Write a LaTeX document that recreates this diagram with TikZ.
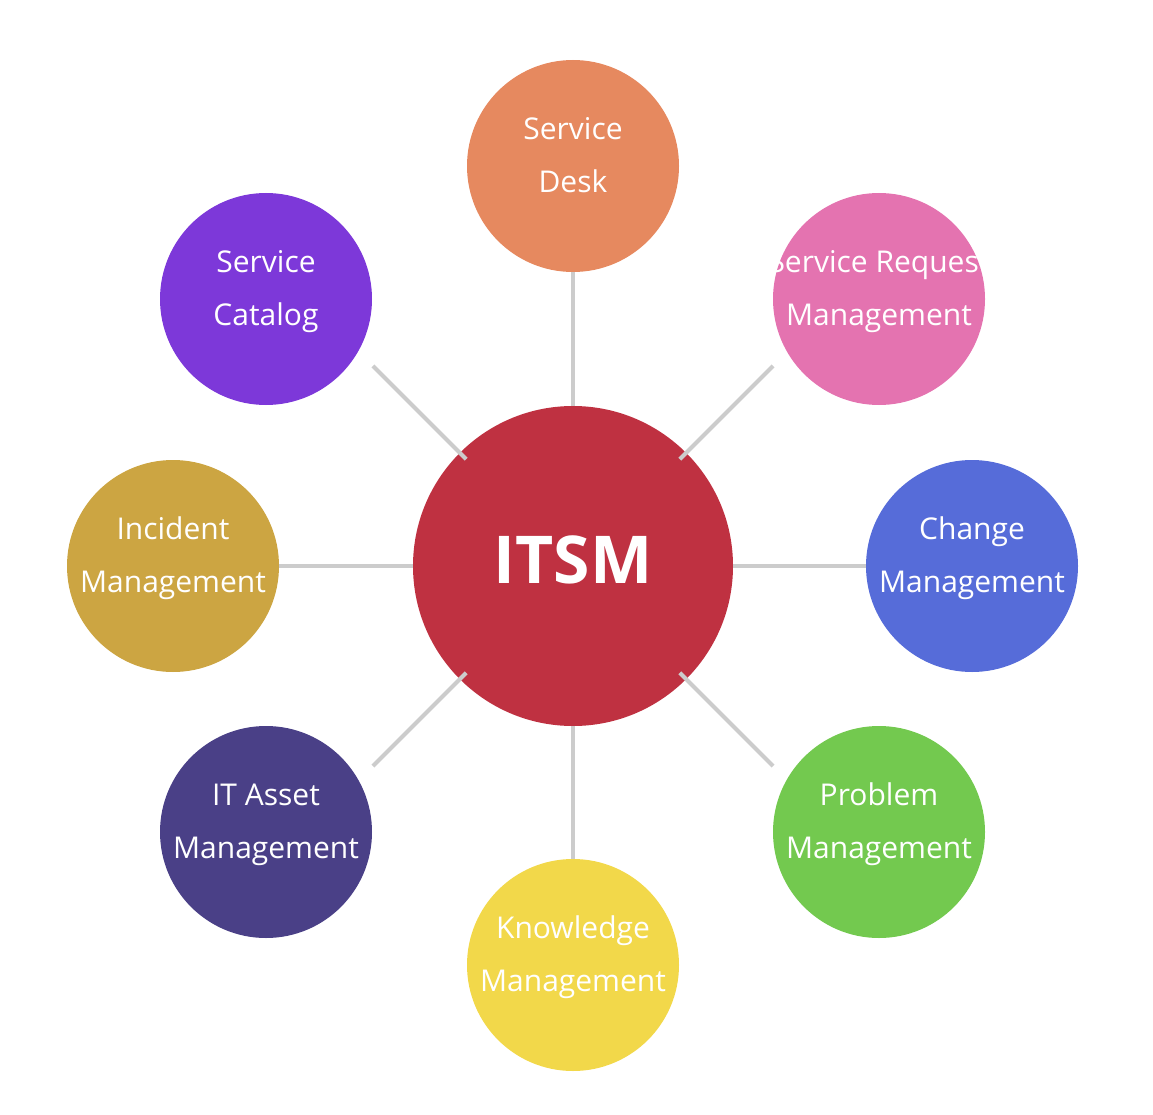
\documentclass[tikz,border=0pt]{standalone}
\usepackage{fontspec}
\setmainfont{Open Sans}
\usepackage{tikz}
\definecolor{hubcolor}{HTML}{BF3141}
\definecolor{spokecolor}{HTML}{CCCCCC}
\definecolor{deskcolor}{HTML}{E6895F}
\definecolor{requestcolor}{HTML}{E473B0}
\definecolor{changecolor}{HTML}{566CD9}
\definecolor{problemcolor}{HTML}{73C94F}
\definecolor{knowcolor}{HTML}{F2D84A}
\definecolor{assetcolor}{HTML}{4A4087}
\definecolor{incidentcolor}{HTML}{CCA542}
\definecolor{catalogcolor}{HTML}{7D38D9}

\begin{document}
\begin{tikzpicture}[x=1pt,y=-1pt,
 hub/.style={circle,fill=hubcolor,minimum size=320pt,inner sep=0pt,
             text=white,text depth=12pt,
             font=\fontsize{66}{70}\selectfont\bfseries},
 area/.style={circle,minimum size=212pt,inner sep=0pt,align=center,
              text=white,text depth=22pt,
              font=\fontsize{30}{53}\selectfont},
 spoke/.style={draw=spokecolor,line width=4pt}]
 \useasboundingbox (0,0) rectangle (1153,1115);
 \node[hub] (itsm) at (573,566) {ITSM};
 \node[area,fill=deskcolor] (desk) at (573,166) {Service\\Desk};
 % too long for its circle: the white overflow vanishes on the page
 \node[area,fill=requestcolor] (request) at (879,299)
   {\makebox[150pt]{Service Request}\\Management};
 \node[area,fill=changecolor] (change) at (972,566) {Change\\Management};
 \node[area,fill=problemcolor] (problem) at (879,832) {Problem\\Management};
 \node[area,fill=knowcolor] (know) at (573,965) {Knowledge\\Management};
 \node[area,fill=assetcolor] (asset) at (266,832) {IT Asset\\Management};
 \node[area,fill=incidentcolor] (incident) at (173,566) {Incident\\Management};
 \node[area,fill=catalogcolor] (catalog) at (266,299) {Service\\Catalog};
 % diagonal spokes stop short of the outer circles
 \foreach \ang/\tip in {45/ne,135/nw,225/sw,315/se}{
   \coordinate (\tip-in) at ([shift={(\ang:151)}]itsm.center);
   \coordinate (\tip-out) at ([shift={(\ang:283)}]itsm.center);
 }
 \draw[spoke] (itsm.north) -- (desk.south);
 \draw[spoke] (itsm.south) -- (know.north);
 \draw[spoke] (itsm.east) -- (change.west);
 \draw[spoke] (itsm.west) -- (incident.east);
 \draw[spoke] (ne-in) -- (ne-out);
 \draw[spoke] (nw-in) -- (nw-out);
 \draw[spoke] (sw-in) -- (sw-out);
 \draw[spoke] (se-in) -- (se-out);
\end{tikzpicture}
\end{document}
